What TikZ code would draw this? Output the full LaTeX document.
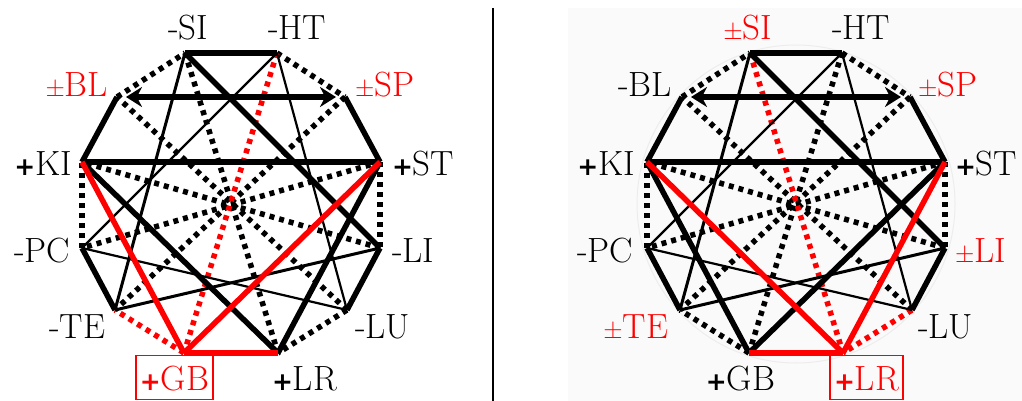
\documentclass[tikz,border=0pt]{standalone}
\usepackage{xcolor}
\usepackage{fontspec}
\newfontfamily\plusfont{DejaVu Sans}
\usetikzlibrary{arrows.meta}

% heavy plus sign in front of a name
\newcommand{\pl}{{\plusfont\bfseries\fontsize{25}{25}\selectfont+}}

\begin{document}
\begin{tikzpicture}[x=1pt, y=-1pt,
    solidedge/.style={line width=5.5pt},
    midedge/.style={line width=3pt},
    thinedge/.style={line width=2.2pt},
    dotedge/.style={line width=5.5pt, dash pattern=on 5pt off 5pt},
    twoway/.style={line width=5.5pt, {Stealth[length=16pt,width=20pt]}-{Stealth[length=16pt,width=20pt]}, shorten <=9pt, shorten >=9pt},
    lbl/.style={inner sep=0pt, outer sep=0pt, font=\fontsize{35}{38}\selectfont},
    boxlbl/.style={lbl, draw=red, text=red, line width=1.6pt, inner xsep=4pt, inner ysep=9.5pt, text height=25pt, text depth=0pt},
]
    \useasboundingbox (0,0) rectangle (1022,401);

    % divider and the shaded right half
    \fill[black!2] (568,8) rectangle (1022,401);
    \coordinate (divtop) at (493,8);
    \coordinate (divbot) at (493,401);
    \draw[line width=1.6pt] (divtop) -- (divbot);

    % left wheel: GB highlighted
    \begin{scope}[name prefix=L-]
        \foreach \n/\x/\y in {C/231/204, SI/185/53, HT/277/53, BL/117/97, SP/345/97,
            KI/82/162, ST/380/162, PC/82/248, LI/380/248, TE/115/310, LU/347/310,
            GB/184/353, LR/278/353}
            \coordinate (\n) at (\x,\y);

        % dotted ring and spokes
        \draw[dotedge] (HT) -- (SP);
        \draw[dotedge] (ST) -- (LI);
        \draw[dotedge] (LU) -- (LR);
        \draw[dotedge] (PC) -- (KI);
        \draw[dotedge] (BL) -- (SI);
        \draw[dotedge] (SI) -- (LR);
        \draw[dotedge] (SP) -- (TE);
        \draw[dotedge] (ST) -- (PC);
        \draw[dotedge] (LI) -- (KI);
        \draw[dotedge] (LU) -- (BL);
        \draw[dotedge, red] (GB) -- (TE);
        \draw[dotedge, red] (HT) -- (GB);

        % solid links
        \draw[solidedge] (SI) -- (HT);
        \draw[solidedge] (SP) -- (ST);
        \draw[solidedge] (LI) -- (LU);
        \draw[solidedge] (TE) -- (PC);
        \draw[solidedge] (KI) -- (BL);
        \draw[solidedge] (KI) -- (ST);
        \draw[solidedge] (SI) -- (LI);
        \draw[solidedge] (KI) -- (LR);
        \draw[solidedge] (ST) -- (LR);
        \draw[midedge] (SI) -- (TE);
        \draw[midedge] (LI) -- (TE);
        \draw[thinedge] (HT) -- (PC);
        \draw[thinedge] (HT) -- (LU);
        \draw[thinedge] (PC) -- (LU);
        \draw[twoway] (BL) -- (SP);
        \draw[solidedge, red] (LR) -- (GB);
        \draw[solidedge, red] (KI) -- (GB);
        \draw[solidedge, red] (ST) -- (GB);

        % names
        \node[lbl, anchor=base east] (SI-t) at (208,40) {-SI};
        \node[lbl, anchor=base west] (HT-t) at (268,40) {-HT};
        \node[lbl, anchor=base east, text=red] (BL-t) at (108,97) {$\pm$BL};
        \node[lbl, anchor=base west, text=red] (SP-t) at (355,97) {$\pm$SP};
        \node[lbl, anchor=base east] (KI-t) at (72,175) {\pl KI};
        \node[lbl, anchor=base west] (ST-t) at (392,175) {\pl ST};
        \node[lbl, anchor=base east] (PC-t) at (70,262) {-PC};
        \node[lbl, anchor=base west] (LI-t) at (392,262) {-LI};
        \node[lbl, anchor=base east] (TE-t) at (105,338) {-TE};
        \node[lbl, anchor=base west] (LU-t) at (355,338) {-LU};
        \node[boxlbl, anchor=base east] (GB-t) at (213,390) {\pl GB};
        \node[lbl, anchor=base west] (LR-t) at (272,390) {\pl LR};
    \end{scope}

    % right wheel: LR highlighted
    \begin{scope}[shift={(565,0)}, name prefix=R-]
        \foreach \n/\x/\y in {C/231/204, SI/185/53, HT/277/53, BL/117/97, SP/345/97,
            KI/82/162, ST/380/162, PC/82/248, LI/380/248, TE/115/310, LU/347/310,
            GB/184/353, LR/278/353}
            \coordinate (\n) at (\x,\y);

        \draw[black!7, line width=1pt] (C) circle (159pt);

        % dotted ring and spokes
        \draw[dotedge] (HT) -- (SP);
        \draw[dotedge] (ST) -- (LI);
        \draw[dotedge] (GB) -- (TE);
        \draw[dotedge] (PC) -- (KI);
        \draw[dotedge] (BL) -- (SI);
        \draw[dotedge] (HT) -- (GB);
        \draw[dotedge] (SP) -- (TE);
        \draw[dotedge] (ST) -- (PC);
        \draw[dotedge] (LI) -- (KI);
        \draw[dotedge] (LU) -- (BL);
        \draw[dotedge, red] (LU) -- (LR);
        \draw[dotedge, red] (SI) -- (LR);

        % solid links
        \draw[solidedge] (SI) -- (HT);
        \draw[solidedge] (SP) -- (ST);
        \draw[solidedge] (LI) -- (LU);
        \draw[solidedge] (TE) -- (PC);
        \draw[solidedge] (KI) -- (BL);
        \draw[solidedge] (KI) -- (ST);
        \draw[solidedge] (SI) -- (LI);
        \draw[solidedge] (KI) -- (GB);
        \draw[solidedge] (ST) -- (GB);
        \draw[midedge] (SI) -- (TE);
        \draw[midedge] (LI) -- (TE);
        \draw[thinedge] (HT) -- (PC);
        \draw[thinedge] (HT) -- (LU);
        \draw[thinedge] (PC) -- (LU);
        \draw[twoway] (BL) -- (SP);
        \draw[solidedge, red] (GB) -- (LR);
        \draw[solidedge, red] (KI) -- (LR);
        \draw[solidedge, red] (ST) -- (LR);

        % names
        \node[lbl, anchor=base east, text=red] (SI-t) at (207,40) {$\pm$SI};
        \node[lbl, anchor=base west] (HT-t) at (267,40) {-HT};
        \node[lbl, anchor=base east] (BL-t) at (107,97) {-BL};
        \node[lbl, anchor=base west, text=red] (SP-t) at (353,97) {$\pm$SP};
        \node[lbl, anchor=base east] (KI-t) at (70,175) {\pl KI};
        \node[lbl, anchor=base west] (ST-t) at (390,175) {\pl ST};
        \node[lbl, anchor=base east] (PC-t) at (68,262) {-PC};
        \node[lbl, anchor=base west, text=red] (LI-t) at (390,262) {$\pm$LI};
        \node[lbl, anchor=base east, text=red] (TE-t) at (103,338) {$\pm$TE};
        \node[lbl, anchor=base west] (LU-t) at (353,338) {-LU};
        \node[lbl, anchor=base east] (GB-t) at (210,390) {\pl GB};
        \node[boxlbl, anchor=base west] (LR-t) at (265,390) {\pl LR};
    \end{scope}
\end{tikzpicture}
\end{document}
